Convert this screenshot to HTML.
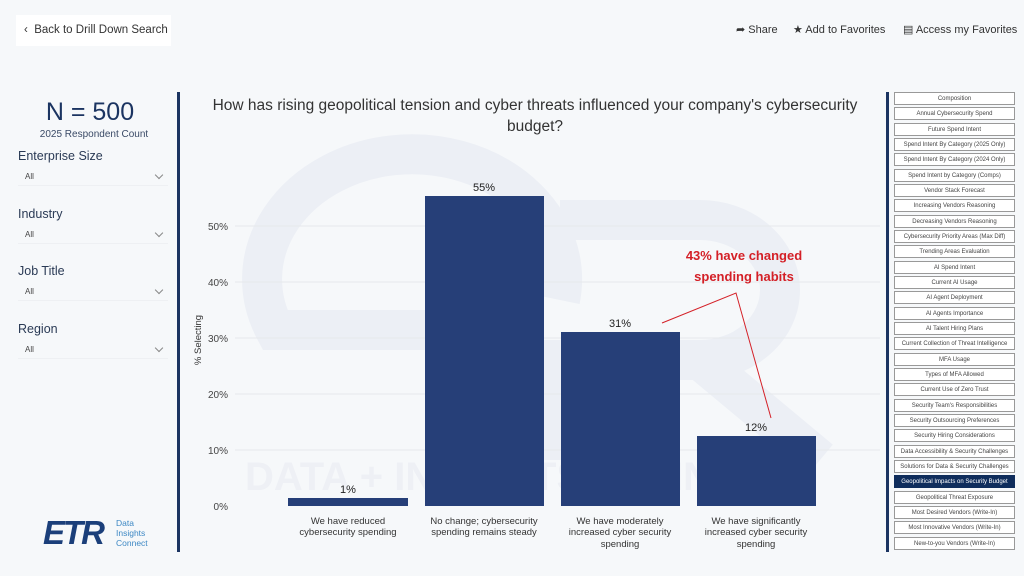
<!DOCTYPE html>
<html><head><meta charset="utf-8"><style>
*{margin:0;padding:0;box-sizing:border-box}
body{width:1024px;height:576px;background:#f6f8fa;font-family:"Liberation Sans",sans-serif;position:relative;overflow:hidden;color:#333}
.abs{position:absolute}
.back{left:16px;top:15px;width:155px;height:31px;background:#fff;font-size:11.5px;color:#333;line-height:31px;padding-left:8px}
.top{top:23px;font-size:11px;color:#333}
.lbl{left:18px;font-size:12.5px;color:#2a3a55}
.sel{left:18px;width:150px;height:18px;border-bottom:1px solid #eef0f3;font-size:8px;color:#444;padding-left:7px;line-height:18px}
.sel:after{content:"";position:absolute;right:6px;top:4px;width:5px;height:5px;border-right:1px solid #888;border-bottom:1px solid #888;transform:rotate(45deg)}
.nav{left:894px;width:121px;height:13px;border:1px solid #999;background:#fff;font-size:6px;text-align:center;line-height:12px;color:#444;white-space:nowrap;overflow:hidden}
.nav.on{background:#0f2d5c;color:#fff;border-color:#0f2d5c}
</style></head><body>
<div class="abs back">&#8249;&nbsp; Back to Drill Down Search</div>
<div class="abs top" style="left:736px">&#10150; Share</div>
<div class="abs top" style="left:793px">&#9733; Add to Favorites</div>
<div class="abs top" style="left:903px">&#9636; Access my Favorites</div>

<div class="abs" style="left:0;width:180px;top:98px;text-align:center;font-size:25px;color:#1b3461">N = 500</div>
<div class="abs" style="left:0;width:188px;top:129px;text-align:center;font-size:10px;color:#3a4a66">2025 Respondent Count</div>
<div class="abs lbl" style="top:149px">Enterprise Size</div><div class="abs sel" style="top:168px">All</div>
<div class="abs lbl" style="top:207px">Industry</div><div class="abs sel" style="top:226px">All</div>
<div class="abs lbl" style="top:264px">Job Title</div><div class="abs sel" style="top:283px">All</div>
<div class="abs lbl" style="top:322px">Region</div><div class="abs sel" style="top:341px">All</div>

<div class="abs" style="left:43px;top:516px;font-size:33px;font-weight:bold;color:#1b3f7a;letter-spacing:-2px;line-height:34px;font-style:italic">ETR</div>
<div class="abs" style="left:116px;top:518px;font-size:8.5px;color:#3d88c4;line-height:10px">Data<br>Insights<br>Connect</div>

<div class="abs" style="left:177px;top:92px;width:3px;height:460px;background:#1b3461"></div>
<div class="abs" style="left:886px;top:92px;width:3px;height:460px;background:#1b3461"></div>

<div class="abs" style="left:190px;top:95px;width:690px;text-align:center;font-size:15.5px;line-height:21px;color:#333">How has rising geopolitical tension and cyber threats influenced your company's cybersecurity budget?</div>

<svg class="abs" style="left:0;top:0" width="1024" height="576">
<g fill="none" stroke="#eceff5" stroke-width="40">
<path d="M440 330 H275 A150 125 0 1 1 560 300"/>
<path d="M560 220 H700 A80 70 0 0 1 700 360 H560 V460 M700 360 L820 460"/>
</g>
<text x="245" y="490" font-size="40" font-family="Liberation Sans" font-weight="bold" fill="#eef0f5">DATA + INSIGHTS CONNECT</text>
<g stroke="#e6e8ec" stroke-width="1">
<line x1="235" x2="880" y1="226" y2="226"/><line x1="235" x2="880" y1="282" y2="282"/>
<line x1="235" x2="880" y1="338" y2="338"/><line x1="235" x2="880" y1="394" y2="394"/>
<line x1="235" x2="880" y1="450" y2="450"/>
</g>
<g font-size="10" fill="#444" text-anchor="end" font-family="Liberation Sans">
<text x="228" y="510">0%</text><text x="228" y="454">10%</text><text x="228" y="398">20%</text>
<text x="228" y="342">30%</text><text x="228" y="286">40%</text><text x="228" y="230">50%</text>
</g>
<text transform="translate(201,340) rotate(-90)" font-size="9.5" fill="#333" text-anchor="middle" font-family="Liberation Sans">% Selecting</text>
<g fill="#263f78">
<rect x="288" y="498" width="120" height="8"/>
<rect x="425" y="196" width="119" height="310"/>
<rect x="561" y="332" width="119" height="174"/>
<rect x="697" y="436" width="119" height="70"/>
</g>
<g font-size="11" fill="#222" text-anchor="middle" font-family="Liberation Sans">
<text x="348" y="493">1%</text><text x="484" y="191">55%</text><text x="620" y="327">31%</text><text x="756" y="431">12%</text>
</g>
<g font-size="9.5" fill="#333" text-anchor="middle" font-family="Liberation Sans">
<text x="348" y="524">We have reduced</text><text x="348" y="535">cybersecurity spending</text>
<text x="484" y="524">No change; cybersecurity</text><text x="484" y="535">spending remains steady</text>
<text x="620" y="524">We have moderately</text><text x="620" y="535">increased cyber security</text><text x="620" y="547">spending</text>
<text x="756" y="524">We have significantly</text><text x="756" y="535">increased cyber security</text><text x="756" y="547">spending</text>
</g>
<g font-size="13" fill="#d42027" font-weight="bold" text-anchor="middle" font-family="Liberation Sans">
<text x="744" y="260">43% have changed</text><text x="744" y="281">spending habits</text>
</g>
<polyline points="662,323 736,293 771,418" fill="none" stroke="#d42027" stroke-width="1"/>
</svg>

<div class="abs nav" style="top:92px">Composition</div>
<div class="abs nav" style="top:107px">Annual Cybersecurity Spend</div>
<div class="abs nav" style="top:123px">Future Spend Intent</div>
<div class="abs nav" style="top:138px">Spend Intent By Category (2025 Only)</div>
<div class="abs nav" style="top:153px">Spend Intent By Category (2024 Only)</div>
<div class="abs nav" style="top:169px">Spend Intent by Category (Comps)</div>
<div class="abs nav" style="top:184px">Vendor Stack Forecast</div>
<div class="abs nav" style="top:199px">Increasing Vendors Reasoning</div>
<div class="abs nav" style="top:215px">Decreasing Vendors Reasoning</div>
<div class="abs nav" style="top:230px">Cybersecurity Priority Areas (Max Diff)</div>
<div class="abs nav" style="top:245px">Trending Areas Evaluation</div>
<div class="abs nav" style="top:261px">AI Spend Intent</div>
<div class="abs nav" style="top:276px">Current AI Usage</div>
<div class="abs nav" style="top:291px">AI Agent Deployment</div>
<div class="abs nav" style="top:307px">AI Agents Importance</div>
<div class="abs nav" style="top:322px">AI Talent Hiring Plans</div>
<div class="abs nav" style="top:337px">Current Collection of Threat Intelligence</div>
<div class="abs nav" style="top:353px">MFA Usage</div>
<div class="abs nav" style="top:368px">Types of MFA Allowed</div>
<div class="abs nav" style="top:383px">Current Use of Zero Trust</div>
<div class="abs nav" style="top:399px">Security Team's Responsibilities</div>
<div class="abs nav" style="top:414px">Security Outsourcing Preferences</div>
<div class="abs nav" style="top:429px">Security Hiring Considerations</div>
<div class="abs nav" style="top:445px">Data Accessibility &amp; Security Challenges</div>
<div class="abs nav" style="top:460px">Solutions for Data &amp; Security Challenges</div>
<div class="abs nav on" style="top:475px">Geopolitical Impacts on Security Budget</div>
<div class="abs nav" style="top:491px">Geopolitical Threat Exposure</div>
<div class="abs nav" style="top:506px">Most Desired Vendors (Write-In)</div>
<div class="abs nav" style="top:521px">Most Innovative Vendors (Write-In)</div>
<div class="abs nav" style="top:537px">New-to-you Vendors (Write-In)</div>
</body></html>
